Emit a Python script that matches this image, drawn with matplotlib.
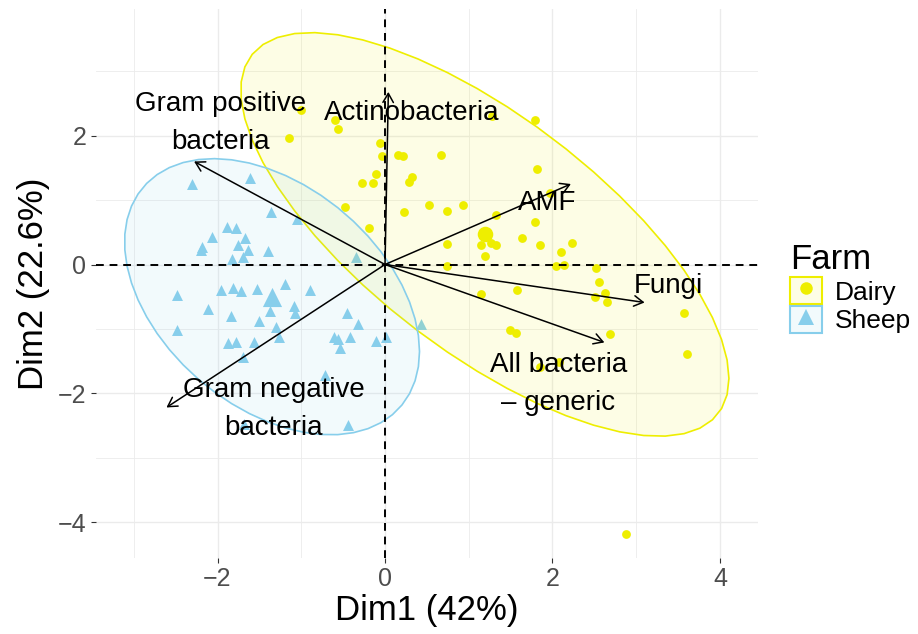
import numpy as np
from matplotlib import pyplot as plt
from matplotlib.colors import to_rgba
from matplotlib.lines import Line2D
from matplotlib.patches import Patch, Polygon

# PCA individuals (Dim1, Dim2) per farm
dairy_dim1 = [-1.00, -0.60, -0.56, -1.15, -0.06, -0.04, 0.15, 0.22, 0.67, -0.11,
              -0.28, -0.14, 0.32, 0.29, -0.48, 0.53, 0.74, 0.93, 0.23, -0.19,
              1.79, 1.28, 1.81, 1.97, 1.33, 1.79, 1.15, 1.27, 1.33, 1.63,
              1.85, 2.23, 2.10, 1.19, 0.74, 0.74, 2.04, 2.14, 2.52, 2.56,
              1.58, 1.15, 2.51, 2.63, 2.65, 3.57, 1.49, 1.56, 2.69, 3.61,
              1.85, 2.08, 2.88]
dairy_dim2 = [2.40, 2.24, 2.10, 1.96, 1.88, 1.69, 1.70, 1.68, 1.70, 1.41,
              1.27, 1.27, 1.36, 1.28, 0.90, 0.93, 0.83, 0.92, 0.82, 0.57,
              2.24, 2.30, 1.48, 1.11, 0.77, 0.66, 0.30, 0.34, 0.31, 0.41,
              0.31, 0.33, 0.19, 0.13, 0.32, -0.02, -0.02, 0.00, -0.05, -0.27,
              -0.39, -0.46, -0.50, -0.45, -0.58, -0.76, -1.02, -1.06, -1.08, -1.39,
              -1.59, -1.52, -4.19]

sheep_dim1 = [-2.31, -1.61, -1.36, -1.05, -1.89, -1.78, -2.07, -1.67, -2.18, -2.20,
              -1.76, -1.64, -1.40, -1.83, -1.70, -0.35, -2.48, -1.96, -1.82, -1.72,
              -1.53, -1.19, -0.90, -2.11, -1.84, -1.37, -1.09, -1.07, -1.51, -1.30,
              -2.48, -0.45, -0.32, -1.87, -1.78, -1.57, -1.26, -1.69, -0.61, -0.56,
              -0.42, -0.54, -0.11, 0.01, 0.43, -0.72, -0.44, -1.68]
sheep_dim2 = [1.25, 1.34, 0.82, 0.71, 0.59, 0.56, 0.43, 0.41, 0.27, 0.23,
              0.30, 0.23, 0.21, 0.09, 0.12, 0.11, -0.48, -0.40, -0.37, -0.41,
              -0.38, -0.30, -0.40, -0.69, -0.80, -0.72, -0.64, -0.76, -0.87, -0.97,
              -1.02, -0.75, -0.93, -1.22, -1.20, -1.20, -1.12, -1.43, -1.12, -1.16,
              -1.12, -1.30, -1.19, -1.13, -0.92, -1.72, -2.49, -2.48]

# variable loadings (arrow tips) and their labels
var_names = ['Actinobacteria', 'Gram positive\nbacteria', 'AMF', 'Fungi',
             'All bacteria\n\u2013 generic', 'Gram negative\nbacteria']
var_dim1 = [0.04, -2.28, 2.22, 3.10, 2.62, -2.61]
var_dim2 = [2.68, 1.60, 1.25, -0.59, -1.21, -2.22]
label_dim1 = [0.32, -1.96, 1.93, 3.38, 2.07, -1.33]
label_dim2 = [2.35, 2.20, 0.96, -0.33, -1.86, -2.24]

farms = ['Dairy', 'Sheep']
COLORS = {'Dairy': '#EEEE00', 'Sheep': '#87CEEB'}
MARKERS = {'Dairy': 'o', 'Sheep': '^'}


def norm_ellipse(x, y, level=0.95, segments=51):
    # multivariate normal ellipse, same recipe as stat_ellipse(type = "norm")
    xy = np.column_stack([x, y])
    center = xy.mean(axis=0)
    cov = np.cov(xy, rowvar=False)
    chol = np.linalg.cholesky(cov).T
    dfd = len(xy) - 1
    qf = dfd / 2 * ((1 - level) ** (-2 / dfd) - 1)
    radius = np.sqrt(2 * qf)
    t = np.linspace(0, 2 * np.pi, segments + 1)
    circle = np.column_stack([np.cos(t), np.sin(t)])
    return center + radius * circle @ chol


plt.rcParams['font.family'] = ['Liberation Sans', 'DejaVu Sans']

fig = plt.figure(figsize=(9.18, 6.34), dpi=100)
ax = fig.add_axes([95.5 / 918, 1 - 558 / 634, 662.5 / 918, 549 / 634])

groups = {'Dairy': (dairy_dim1, dairy_dim2), 'Sheep': (sheep_dim1, sheep_dim2)}

for farm in farms:
    gx, gy = groups[farm]
    c = COLORS[farm]
    m = MARKERS[farm]
    ax.scatter(gx, gy, s=40 if m == 'o' else 62, marker=m, color=c,
               linewidths=0, zorder=3)
    ax.scatter([np.mean(gx)], [np.mean(gy)], s=125 if m == 'o' else 190,
               marker=m, color=c, linewidths=0, zorder=3)

for farm in farms:
    gx, gy = groups[farm]
    ell = norm_ellipse(gx, gy)
    ax.add_patch(Polygon(ell, closed=True, facecolor=to_rgba(COLORS[farm], 0.1),
                         edgecolor=COLORS[farm], lw=1.2, zorder=4))

ax.axhline(0, color='black', lw=1.4, ls=(0, (4, 3)), zorder=5)
ax.axvline(0, color='black', lw=1.4, ls=(0, (4, 3)), zorder=5)

for name, vx, vy, lx, ly in zip(var_names, var_dim1, var_dim2, label_dim1, label_dim2):
    ax.annotate('', xy=(vx, vy), xytext=(0, 0),
                arrowprops=dict(arrowstyle='->,head_length=0.5,head_width=0.29',
                                mutation_scale=13, lw=1.1, color='black',
                                shrinkA=0, shrinkB=0),
                zorder=6)
    ax.text(lx, ly, name, fontsize=20, ha='center', va='center',
            multialignment='center', linespacing=1.62, zorder=7)

ax.set_xlim(-3.457, 4.454)
ax.set_ylim(-4.557, 3.967)
ax.set_xticks([-2, 0, 2, 4])
ax.set_yticks([-4, -2, 0, 2])
ax.set_xticks([-3, -1, 1, 3], minor=True)
ax.set_yticks([-3, -1, 1, 3], minor=True)
ax.grid(which='major', color='#EBEBEB', lw=1.0, zorder=0)
ax.grid(which='minor', color='#EBEBEB', lw=0.6, zorder=0)
ax.set_axisbelow(True)
for s in ax.spines.values():
    s.set_visible(False)
ax.tick_params(which='major', length=3.5, width=0.8, color='#333333',
               labelcolor='#4D4D4D', labelsize=18, pad=3)
ax.tick_params(which='minor', length=0)

ax.set_xlabel('Dim1 (42%)', fontsize=25, labelpad=2)
ax.set_ylabel('Dim2 (22.6%)', fontsize=25, labelpad=6)

handles = []
for farm in farms:
    c = COLORS[farm]
    box = Patch(facecolor=to_rgba(c, 0.1), edgecolor=c, lw=1.5)
    pt = Line2D([], [], marker=MARKERS[farm], color=c, ls='',
                markersize=9 if farm == 'Dairy' else 12, markeredgewidth=0)
    handles.append((box, pt))

leg = fig.legend(handles, farms, title='Farm', loc='center left',
                 bbox_to_anchor=(790 / 918, 1 - 288 / 634), frameon=False,
                 fontsize=19, title_fontsize=25, handlelength=1.2,
                 handleheight=1.2, handletextpad=0.5, labelspacing=0.05,
                 borderpad=0, borderaxespad=0, alignment='left')

plt.savefig('out.png', dpi=100)
